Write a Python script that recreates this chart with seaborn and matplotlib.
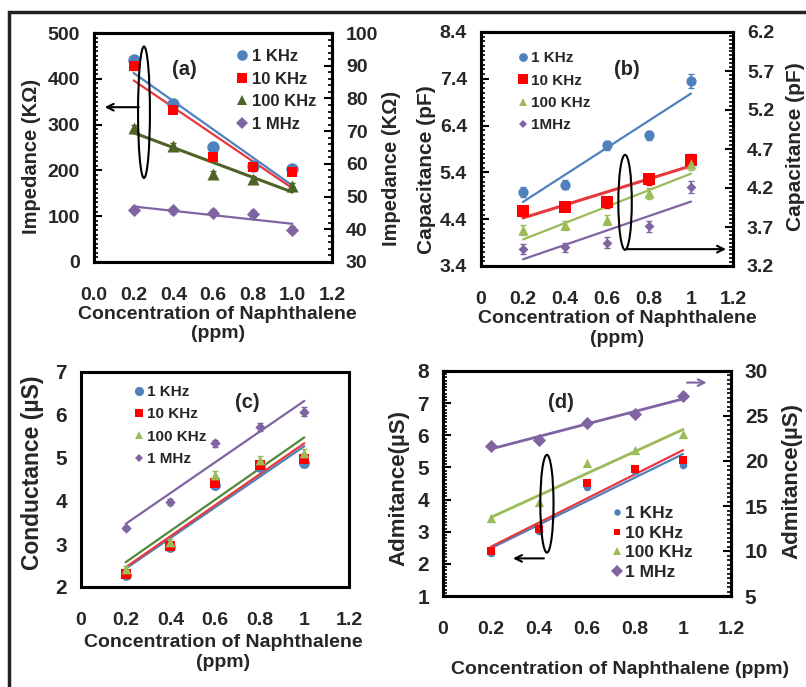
import numpy as np
import pandas as pd
import matplotlib
matplotlib.use("Agg")
import matplotlib.pyplot as plt
import seaborn as sns
from matplotlib.patches import Ellipse, Rectangle
from matplotlib.ticker import MultipleLocator, FixedLocator

sns.set_theme(style="white")
plt.rcParams['font.family'] = ['Liberation Sans', 'DejaVu Sans']
plt.rcParams['font.weight'] = 'bold'
plt.rcParams['axes.labelweight'] = 'bold'

# ---------------- data ----------------
conc = [0.2, 0.4, 0.6, 0.8, 1.0]
series = ['1 KHz', '10 KHz', '100 KHz', '1 MHz']
xticks = [0.0, 0.2, 0.4, 0.6, 0.8, 1.0, 1.2]
xticklabels_a = ['0.0', '0.2', '0.4', '0.6', '0.8', '1.0', '1.2']
xticklabels = ['0', '0.2', '0.4', '0.6', '0.8', '1', '1.2']

# (a) Impedance (KOhm); 1 KHz-100 KHz on left axis, 1 MHz on right axis
imp_1k = [441, 345, 252, 209, 202]
imp_10k = [428, 332, 230, 208, 196]
imp_100k = [292, 254, 193, 182, 166]
imp_1m = [46.0, 45.8, 45.1, 44.8, 39.9]
imp_err = [8, 6, 6, 6, 6]

# (b) Capacitance (pF); 1 KHz on left axis, others on right axis
cap_1k = [4.98, 5.14, 5.98, 6.19, 7.35]
cap_10k = [3.90, 3.96, 4.02, 4.31, 4.56]
cap_100k = [3.66, 3.72, 3.79, 4.13, 4.51]
cap_1m = [3.42, 3.44, 3.50, 3.71, 4.21]
cap_err_l = [0.1, 0.1, 0.1, 0.1, 0.15]
cap_err_r = [0.06, 0.06, 0.07, 0.07, 0.08]
cap_left_ticks = [3.4, 4.4, 5.4, 6.4, 7.4, 8.4]
cap_right_ticks = [3.2, 3.7, 4.2, 4.7, 5.2, 5.7, 6.2]

# (c) Conductance (uS)
con_1k = [2.27, 2.92, 4.37, 4.80, 4.89]
con_10k = [2.31, 2.95, 4.43, 4.84, 4.97]
con_100k = [2.43, 3.05, 4.60, 4.95, 5.11]
con_1m = [3.38, 3.97, 5.34, 5.72, 6.08]
con_err = [0.05, 0.07, 0.09, 0.09, 0.1]

# (d) Admitance (uS); 1 MHz on right axis
adm_1k = [2.35, 3.03, 4.40, 4.90, 5.08]
adm_10k = [2.41, 3.07, 4.53, 4.94, 5.23]
adm_100k = [3.42, 3.93, 5.15, 5.54, 6.03]
adm_1m = [21.7, 22.3, 24.2, 25.2, 27.2]

C_BLUE = '#4F81BD'
C_RED = '#FF0000'
C_RED_LINE = '#E8383D'
C_DKGREEN = '#4F6228'
C_GREEN = '#9BBB59'
C_PURPLE = '#8064A2'

W, H = 806, 687
fig = plt.figure(figsize=(W / 100, H / 100), dpi=100)

YLAB = 15
XLAB = 14
TICK = 14


def ax_rect(l, r, t, b):
    return [l / W, 1 - b / H, (r - l) / W, (b - t) / H]


def style_axis(ax, xpad=18):
    for s in ax.spines.values():
        s.set_linewidth(2.2)
        s.set_color('black')
    ax.tick_params(axis='both', which='major', direction='in', length=6, width=1.5,
                   labelsize=TICK, color='black')
    ax.tick_params(axis='both', which='minor', direction='in', length=3, width=1.2,
                   color='black')
    ax.tick_params(axis='x', pad=xpad)
    ax.tick_params(axis='y', pad=10)


def set_x(ax, labels):
    ax.set_xlim(0, 1.2)
    ax.xaxis.set_major_locator(FixedLocator(xticks))
    ax.xaxis.set_minor_locator(MultipleLocator(0.04))
    ax.set_xticklabels(labels)


def plot_series(ax, y, color, marker, ms, lcolor=None, yerr=None, lw=1.6):
    df = pd.DataFrame({'x': conc, 'y': y})
    sns.regplot(data=df, x='x', y='y', ax=ax, scatter=False, ci=None, truncate=True,
                line_kws=dict(color=lcolor or color, lw=lw, zorder=3))
    if yerr is not None:
        ax.errorbar(conc, y, yerr=yerr, fmt='none', ecolor=color, elinewidth=1.2,
                    capsize=2, zorder=4)
    sns.scatterplot(data=df, x='x', y='y', ax=ax, color=color, marker=marker, s=ms,
                    edgecolor=color, linewidth=0, zorder=5, legend=False)
    h = plt.Line2D([], [], color=color, marker=marker, ls='none',
                   markersize=np.sqrt(ms) * 0.85, markeredgewidth=0)
    return h


# ---------------- panel (a) ----------------
axa = fig.add_axes(ax_rect(94, 332, 33, 262))
axa2 = axa.twinx()
h1 = plot_series(axa, imp_1k, C_BLUE, 'o', 80, yerr=imp_err)
h2 = plot_series(axa, imp_10k, C_RED, 's', 60, lcolor=C_RED_LINE, yerr=imp_err)
h3 = plot_series(axa, imp_100k, C_DKGREEN, '^', 75, yerr=imp_err, lw=2.2)
h4 = plot_series(axa2, imp_1m, C_PURPLE, 'D', 45, yerr=[1, 1, 1, 1, 1])
set_x(axa, xticklabels_a)
axa.set_ylim(0, 500)
axa2.set_ylim(30, 100)
axa.yaxis.set_major_locator(MultipleLocator(100))
axa.yaxis.set_minor_locator(MultipleLocator(10))
axa2.yaxis.set_major_locator(MultipleLocator(10))
axa2.yaxis.set_minor_locator(MultipleLocator(2))
axa.set_xlabel('Concentration of Naphthalene\n(ppm)', fontsize=XLAB, fontweight='bold')
axa.set_ylabel('Impedance (KΩ)', fontsize=YLAB - 0.5, fontweight='bold')
axa2.set_ylabel('Impedance (KΩ)', fontsize=YLAB - 0.5, fontweight='bold')
style_axis(axa)
style_axis(axa2)
axa.xaxis.set_label_coords(0.52, -0.19)
axa.yaxis.set_label_coords(-0.223, 0.46)
axa2.yaxis.set_label_coords(1.21, 0.41)
axa.text(0.38, 0.84, '(a)', transform=axa.transAxes, fontsize=14.5, fontweight='bold',
         ha='center', va='center')
axa.legend([h1, h2, h3, h4], series, loc='upper left', bbox_to_anchor=(0.6, 0.93),
           frameon=False, handlelength=0.6, handletextpad=0.3, labelspacing=0.45,
           prop=dict(size=12, weight='bold'), borderaxespad=0, borderpad=0)
axa.add_patch(Ellipse((0.252, 327), 0.06, 287, fill=False, lw=1.5, ec='black', zorder=6))
axa.annotate('', xy=(0.04, 338), xytext=(0.24, 338),
             arrowprops=dict(arrowstyle='->', lw=1.5, color='black'))
axa.set_zorder(axa2.get_zorder() + 1)
axa.patch.set_visible(False)

# ---------------- panel (b) ----------------
axb = fig.add_axes(ax_rect(481, 733, 32, 266))
axb2 = axb.twinx()
g1 = plot_series(axb, cap_1k, C_BLUE, 'o', 55, yerr=cap_err_l)
g2 = plot_series(axb2, cap_10k, C_RED, 's', 85, lcolor=C_RED_LINE, yerr=cap_err_r, lw=2.2)
g3 = plot_series(axb2, cap_100k, C_GREEN, '^', 55, yerr=cap_err_r)
g4 = plot_series(axb2, cap_1m, C_PURPLE, 'D', 25, yerr=cap_err_r)
set_x(axb, xticklabels)
axb.set_ylim(3.4, 8.4)
axb2.set_ylim(3.2, 6.2)
axb.yaxis.set_major_locator(FixedLocator(cap_left_ticks))
axb.yaxis.set_minor_locator(MultipleLocator(0.1))
axb2.yaxis.set_major_locator(FixedLocator(cap_right_ticks))
axb2.yaxis.set_minor_locator(MultipleLocator(0.05))
axb.set_yticklabels([f'{v:.1f}' for v in cap_left_ticks])
axb2.set_yticklabels([f'{v:.1f}' for v in cap_right_ticks])
axb.set_xlabel('Concentration of Naphthalene\n(ppm)', fontsize=XLAB, fontweight='bold')
axb.set_ylabel('Capacitance (pF)', fontsize=YLAB, fontweight='bold')
axb2.set_ylabel('Capacitance (pF)', fontsize=YLAB, fontweight='bold')
style_axis(axb)
style_axis(axb2)
axb.xaxis.set_label_coords(0.54, -0.19)
axb.yaxis.set_label_coords(-0.179, 0.41)
axb2.yaxis.set_label_coords(1.21, 0.51)
axb.text(0.58, 0.84, '(b)', transform=axb.transAxes, fontsize=14.5, fontweight='bold',
         ha='center', va='center')
axb.legend([g1, g2, g3, g4], ['1 KHz', '10 KHz', '100 KHz', '1MHz'], loc='upper left',
           bbox_to_anchor=(0.15, 0.918), frameon=False, handlelength=0.6,
           handletextpad=0.2, labelspacing=0.55, prop=dict(size=11, weight='bold'),
           borderaxespad=0, borderpad=0)
axb.add_patch(Ellipse((0.686, 4.76), 0.064, 2.03, fill=False, lw=1.5, ec='black', zorder=6))
axb.annotate('', xy=(1.18, 3.76), xytext=(0.686, 3.76),
             arrowprops=dict(arrowstyle='->', lw=1.5, color='black'))
axb.set_zorder(axb2.get_zorder() + 1)
axb.patch.set_visible(False)

# ---------------- panel (c) ----------------
axc = fig.add_axes(ax_rect(81, 349, 372, 587))
k1 = plot_series(axc, con_1k, C_BLUE, 'o', 60, yerr=con_err)
k2 = plot_series(axc, con_10k, C_RED, 's', 45, lcolor=C_RED_LINE, yerr=con_err)
k3 = plot_series(axc, con_100k, C_GREEN, '^', 50, lcolor='#4F8A3A', yerr=con_err)
k4 = plot_series(axc, con_1m, C_PURPLE, 'D', 28, yerr=con_err)
set_x(axc, xticklabels)
axc.set_ylim(2, 7)
axc.yaxis.set_major_locator(MultipleLocator(1))
axc.yaxis.set_minor_locator(MultipleLocator(0.1))
axc.set_xlabel('Concentration of Naphthalene\n(ppm)', fontsize=XLAB, fontweight='bold')
axc.set_ylabel('Conductance (µS)', fontsize=YLAB + 1.5, fontweight='bold')
style_axis(axc)
axc.tick_params(axis='y', labelsize=15)
axc.xaxis.set_label_coords(0.53, -0.22)
axc.yaxis.set_label_coords(-0.138, 0.53)
axc.text(0.62, 0.86, '(c)', transform=axc.transAxes, fontsize=14.5, fontweight='bold',
         ha='center', va='center')
axc.legend([k1, k2, k3, k4], series, loc='upper left', bbox_to_anchor=(0.2, 0.94),
           frameon=False, handlelength=0.6, handletextpad=0.2, labelspacing=0.55,
           prop=dict(size=11, weight='bold'), borderaxespad=0, borderpad=0)

# ---------------- panel (d) ----------------
axd = fig.add_axes(ax_rect(443, 731, 371, 596))
axd2 = axd.twinx()
m1 = plot_series(axd, adm_1k, C_BLUE, 'o', 30)
m2 = plot_series(axd, adm_10k, C_RED, 's', 28, lcolor=C_RED_LINE)
m3 = plot_series(axd, adm_100k, C_GREEN, '^', 45, lw=2.0)
m4 = plot_series(axd2, adm_1m, C_PURPLE, 'D', 45, lw=2.0)
set_x(axd, xticklabels)
axd.set_ylim(1, 8)
axd2.set_ylim(5, 30)
axd.yaxis.set_major_locator(MultipleLocator(1))
axd.yaxis.set_minor_locator(MultipleLocator(0.1))
axd2.yaxis.set_major_locator(MultipleLocator(5))
axd2.yaxis.set_minor_locator(MultipleLocator(0.5))
axd.set_xlabel('Concentration of Naphthalene (ppm)', fontsize=XLAB, fontweight='bold')
axd.set_ylabel('Admitance(µS)', fontsize=YLAB + 1, fontweight='bold')
axd2.set_ylabel('Admitance(µS)', fontsize=YLAB + 1, fontweight='bold')
style_axis(axd)
style_axis(axd2)
axd.tick_params(axis='y', labelsize=15)
axd2.tick_params(axis='y', labelsize=15)
axd.xaxis.set_label_coords(0.615, -0.29)
axd.yaxis.set_label_coords(-0.118, 0.48)
axd2.yaxis.set_label_coords(1.174, 0.51)
axd.text(0.41, 0.86, '(d)', transform=axd.transAxes, fontsize=14.5, fontweight='bold',
         ha='center', va='center')
axd.legend([m1, m2, m3, m4], series, loc='upper left', bbox_to_anchor=(0.585, 0.40),
           frameon=False, handlelength=0.6, handletextpad=0.2, labelspacing=0.25,
           prop=dict(size=12.5, weight='bold'), borderaxespad=0, borderpad=0)
axd.add_patch(Ellipse((0.433, 3.87), 0.055, 3.04, fill=False, lw=1.5, ec='black', zorder=6))
axd.annotate('', xy=(0.28, 2.17), xytext=(0.432, 2.17),
             arrowprops=dict(arrowstyle='->', lw=1.5, color='black'))
axd.annotate('', xy=(1.11, 7.64), xytext=(1.005, 7.64),
             arrowprops=dict(arrowstyle='->', lw=1.5, color=C_PURPLE))
axd.set_zorder(axd2.get_zorder() + 1)
axd.patch.set_visible(False)

# outer frame
fig.add_artist(Rectangle((9 / W, -0.1), 1.2, 1 - 12 / H + 0.1, transform=fig.transFigure,
                         fill=False, lw=2.5, ec='#222222'))

fig.savefig('out.png', dpi=100)
